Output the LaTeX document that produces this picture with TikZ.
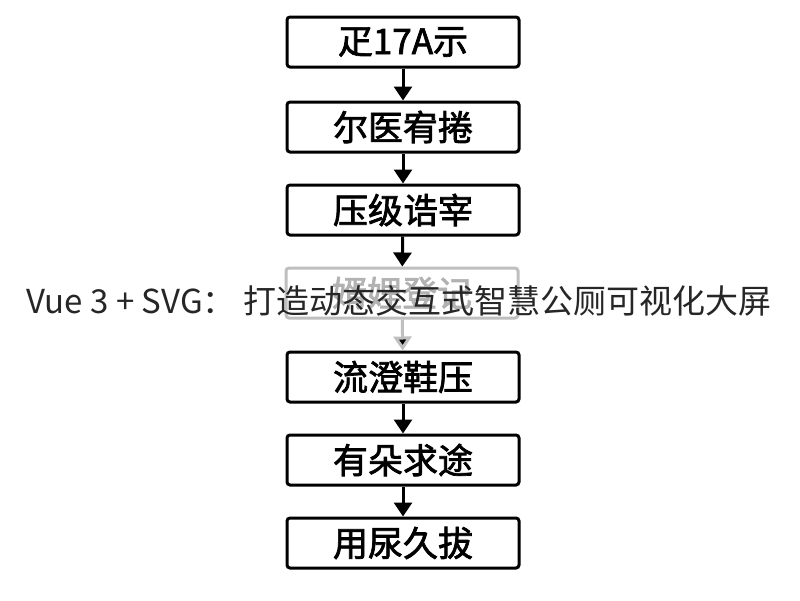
\documentclass[tikz,border=0pt]{standalone}
\usepackage{fontspec}
\newfontfamily\cjk{Noto Sans CJK SC}
\newfontfamily\cjkbold[FakeBold=2]{Noto Sans CJK SC}
\usetikzlibrary{arrows.meta}
\tikzset{
  stepbox/.style={draw=black, line width=3pt, rounded corners=3pt, minimum width=232pt, minimum height=50pt, inner sep=0pt, font=\cjkbold\fontsize{35}{37}\selectfont, text=black},
  fadedbox/.style={stepbox, draw=black!25, text=black!30},
  flow/.style={line width=3pt, -{Triangle[width=18pt,length=14pt]}},
  fadedflow/.style={flow, draw=black!25},
  titletext/.style={font=\cjk\fontsize{33}{35}\selectfont, text=black!85, inner sep=0pt}
}
\begin{document}
\begin{tikzpicture}[x=1pt,y=-1pt]
\useasboundingbox (0,0) rectangle (800,600);
\fill[white] (0,0) rectangle (800,600);
\node[stepbox] (b1) at (403,42) {疋17A示};
\node[stepbox] (b2) at (403,127) {尔医宥捲};
\node[stepbox] (b3) at (403,210) {压级诰宰};
\node[fadedbox] (b4) at (402,293) {婿娌登记};
\node[stepbox] (b5) at (403,377) {流澄鞋压};
\node[stepbox] (b6) at (403,460) {有朵求途};
\node[stepbox] (b7) at (403,543) {用尿久拔};
\draw[flow] (b1) -- (b2);
\draw[flow] (b2) -- (b3);
\draw[flow] (b3) -- (b4);
\draw[fadedflow, -{Triangle[width=18pt,length=14pt,fill=black]}] (b4) -- (b5);
\draw[flow] (b5) -- (b6);
\draw[flow] (b6) -- (b7);
\node[titletext] (title) at (399,301) {Vue 3 + SVG： 打造动态交互式智慧公厕可视化大屏};
\end{tikzpicture}
\end{document}
